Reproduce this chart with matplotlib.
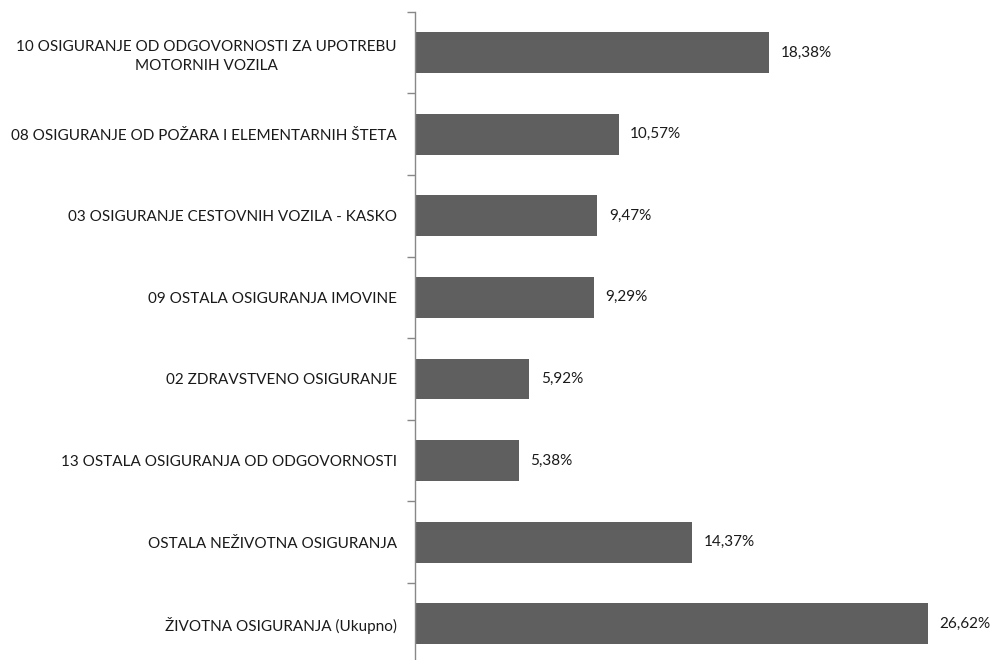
import matplotlib.pyplot as plt
import numpy as np

plt.rcParams['font.family'] = ['Lato', 'DejaVu Sans']

categories = ['10 OSIGURANJE OD ODGOVORNOSTI ZA UPOTREBU\nMOTORNIH VOZILA',
              '08 OSIGURANJE OD POŽARA I ELEMENTARNIH ŠTETA',
              '03 OSIGURANJE CESTOVNIH VOZILA - KASKO',
              '09 OSTALA OSIGURANJA IMOVINE',
              '02 ZDRAVSTVENO OSIGURANJE',
              '13 OSTALA OSIGURANJA OD ODGOVORNOSTI',
              'OSTALA NEŽIVOTNA OSIGURANJA',
              'ŽIVOTNA OSIGURANJA (Ukupno)']
values = [18.38, 10.57, 9.47, 9.29, 5.92, 5.38, 14.37, 26.62]

n = len(categories)
y = np.arange(n)

fig = plt.figure(figsize=(9.95, 6.6), dpi=100)
ax = fig.add_axes([415/995, 1 - 664.5/660, 1 - 415/995, 652.8/660])

ax.barh(y, values, height=0.5, color='#5f5f5f')
ax.set_ylim(n - 0.5, -0.5)
ax.set_xlim(0, 30.1)

#value labels next to the bars
for yi, v in zip(y, values):
    ax.text(v + 0.6, yi, ('%.2f' % v).replace('.', ',') + '%',
            va='center', ha='left', fontsize=11, color='#1a1a1a')

ax.set_yticks(y)
ax.set_yticklabels(categories, fontsize=11, color='#1a1a1a')
for lab in ax.get_yticklabels():
    lab.set_multialignment('center')
    lab.set_linespacing(1.45)
ax.tick_params(axis='y', which='major', length=0, pad=13)
ax.set_yticks(np.arange(n + 1) - 0.5, minor=True)
ax.tick_params(axis='y', which='minor', length=6, width=1, color='#888888')

ax.set_xticks([])
for s in ['top', 'right', 'bottom']:
    ax.spines[s].set_visible(False)
ax.spines['left'].set_color('#888888')
ax.spines['left'].set_linewidth(1)

fig.savefig('out.png', dpi=100)
